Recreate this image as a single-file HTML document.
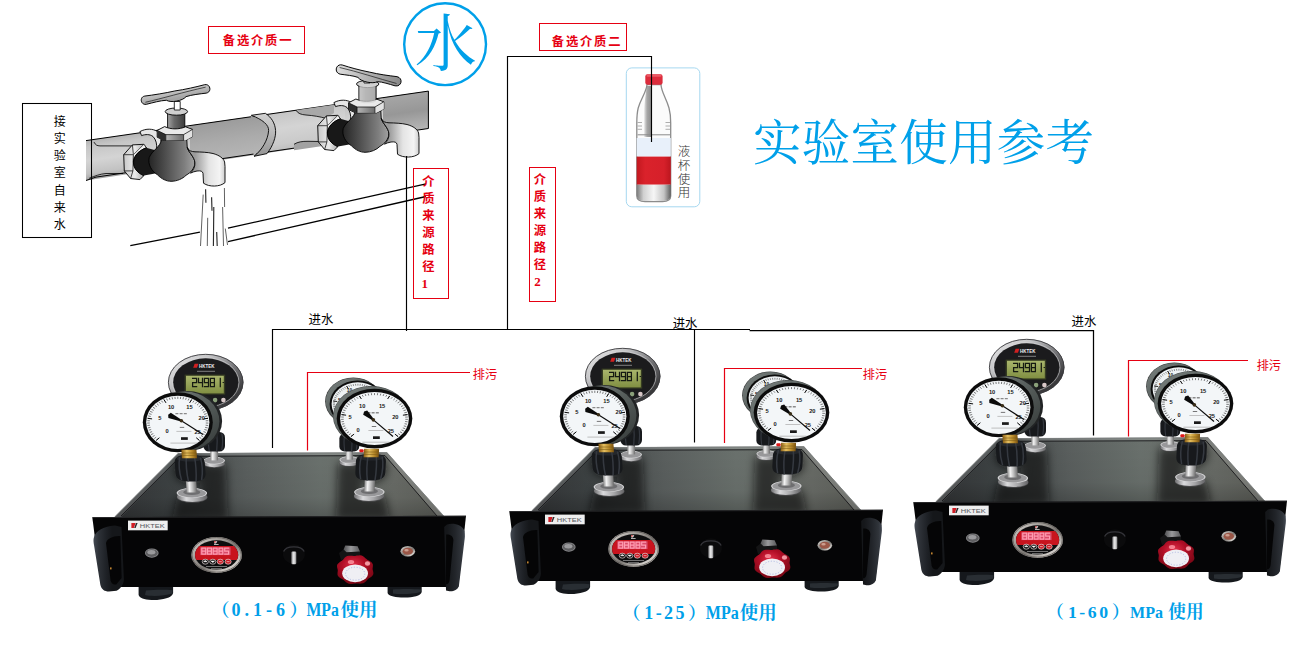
<!DOCTYPE html>
<html><head><meta charset="utf-8"><title>Lab usage reference</title>
<style>
html,body{margin:0;padding:0;background:#fff;}
body{width:1306px;height:648px;overflow:hidden;font-family:"Liberation Sans",sans-serif;}
svg{display:block;}
svg text{font-family:"Liberation Sans","Noto Sans CJK SC",sans-serif;}
</style></head><body>
<svg width="1306" height="648" viewBox="0 0 1306 648">
<defs>

<linearGradient id="pg" gradientUnits="userSpaceOnUse" x1="200" y1="124" x2="205.8" y2="164">
 <stop offset="0" stop-color="#b4b4b4"/><stop offset=".16" stop-color="#c6c6c6"/><stop offset=".5" stop-color="#d4d4d4"/><stop offset=".82" stop-color="#c2c2c2"/><stop offset="1" stop-color="#9e9e9e"/>
</linearGradient>
<linearGradient id="pg2" gradientUnits="userSpaceOnUse" x1="400" y1="95" x2="405.8" y2="135">
 <stop offset="0" stop-color="#a6a6a6"/><stop offset=".45" stop-color="#979797"/><stop offset="1" stop-color="#bcbcbc"/>
</linearGradient>
<linearGradient id="bodyg" gradientUnits="userSpaceOnUse" x1="146" y1="0" x2="197" y2="0">
 <stop offset="0" stop-color="#1e1e1e"/><stop offset=".35" stop-color="#4a4a4a"/><stop offset=".75" stop-color="#7e7e7e"/><stop offset="1" stop-color="#a8a8a8"/>
</linearGradient>
<linearGradient id="spg" gradientUnits="userSpaceOnUse" x1="195" y1="0" x2="226" y2="0">
 <stop offset="0" stop-color="#9a9a9a"/><stop offset=".45" stop-color="#e4e4e4"/><stop offset=".8" stop-color="#f4f4f4"/><stop offset="1" stop-color="#c6c6c6"/>
</linearGradient>
<linearGradient id="nutg" gradientUnits="userSpaceOnUse" x1="156" y1="0" x2="193" y2="0">
 <stop offset="0" stop-color="#e6e6e6"/><stop offset=".3" stop-color="#c2c2c2"/><stop offset=".7" stop-color="#8c8c8c"/><stop offset="1" stop-color="#dcdcdc"/>
</linearGradient>
<linearGradient id="stemg" gradientUnits="userSpaceOnUse" x1="167" y1="0" x2="185" y2="0">
 <stop offset="0" stop-color="#a8a8a8"/><stop offset=".4" stop-color="#6a6a6a"/><stop offset="1" stop-color="#3c3c3c"/>
</linearGradient>
<linearGradient id="lnutg" gradientUnits="userSpaceOnUse" x1="124" y1="0" x2="146" y2="0">
 <stop offset="0" stop-color="#c9c9c9"/><stop offset=".5" stop-color="#ececec"/><stop offset="1" stop-color="#9a9a9a"/>
</linearGradient>
<linearGradient id="hg" gradientUnits="userSpaceOnUse" x1="0" y1="-4" x2="0" y2="4">
 <stop offset="0" stop-color="#c6c6c6"/><stop offset="1" stop-color="#a4a4a4"/>
</linearGradient>
<linearGradient id="pgB" gradientUnits="userSpaceOnUse" x1="225" y1="121" x2="230.8" y2="159">
 <stop offset="0" stop-color="#9c9c9c"/><stop offset=".5" stop-color="#ababab"/><stop offset="1" stop-color="#b6b6b6"/>
</linearGradient>
<linearGradient id="pgC" gradientUnits="userSpaceOnUse" x1="305" y1="109" x2="310.8" y2="147">
 <stop offset="0" stop-color="#c6c6c6"/><stop offset=".4" stop-color="#d4d4d4"/><stop offset=".8" stop-color="#cacaca"/><stop offset="1" stop-color="#bcbcbc"/>
</linearGradient>
<linearGradient id="cpg" gradientUnits="userSpaceOnUse" x1="0" y1="113" x2="0" y2="156">
 <stop offset="0" stop-color="#d2d2d2"/><stop offset=".5" stop-color="#b6b6b6"/><stop offset="1" stop-color="#949494"/>
</linearGradient>
<linearGradient id="hg2" gradientUnits="userSpaceOnUse" x1="-30" y1="0" x2="32" y2="0">
 <stop offset="0" stop-color="#dadada"/><stop offset=".5" stop-color="#b0b0b0"/><stop offset="1" stop-color="#8a8a8a"/>
</linearGradient>
<linearGradient id="nutc" gradientUnits="userSpaceOnUse" x1="165.8" y1="0" x2="183.6" y2="0">
 <stop offset="0" stop-color="#b6b6b6"/><stop offset="1" stop-color="#6c6c6c"/>
</linearGradient>
<g id="fbody">
 <!-- collar on pipe -->
 <path d="M139.9 131.6C146 128.2 153 128.6 157.5 131.5C161 136 162 142 160.6 148.5L156.6 150C157.2 144 156 139.5 153 136.5C149.6 134 145.5 134.2 141.6 135.6Z" fill="#e6e6e6" stroke="#000" stroke-width=".9"/>
 <!-- left hex nut -->
 <path d="M123.7 154.7L132.4 144.9L143.9 144.3L146.3 147.8C139 150.5 133.8 155.5 133.4 162C133.3 168 137.5 173 143.9 175.6L139.9 179.6L130.6 178.5L124.3 170.9Z" fill="url(#lnutg)" stroke="#000" stroke-width=".9"/>
 <path d="M132.4 144.9L133.4 154.7L132.9 170.9L130.6 178.5M123.7 154.7L133.4 154.7M124.3 170.9L132.9 170.9" fill="none" stroke="#000" stroke-width=".7"/>
 <path d="M133.4 154.7L143.9 144.3L146.3 147.8C139 150.5 133.8 155.5 133.4 162Z" fill="#f2f2f2" stroke="#000" stroke-width=".6"/>
 <!-- dark connector -->
 <path d="M146.3 147.8C139 150.5 133.8 155.5 133.6 162C133.5 168 137.5 173 143.9 175.6L158 173V151Z" fill="#181818"/>
 <path d="M146.3 147.8C139 150.5 133.8 155.5 133.6 162C133.5 168 137.5 173 143.9 175.6" fill="none" stroke="#000" stroke-width=".8"/>
 <!-- body -->
 <path d="M161.3 139.8C161 146.5 152 150.5 149.2 157.5C147.6 164.5 151.5 171 157.5 174.8C161.5 179 166.5 181.3 171 181.3C177 181.3 182.5 178.8 186 175.3C191 172.5 194.6 168 194.9 163C195.2 157 188 152.5 187.2 147L186.8 139.8Z" fill="url(#bodyg)" stroke="#000" stroke-width=".9"/>
 <!-- spout -->
 <path d="M187.3 147.5C188.5 150.8 191.5 151.6 195 151.8C201 152 207.6 152.2 213 153.5C219.2 155.2 223.5 158.2 224.6 162C225.2 165 225 168 225 171V182.6C220 187 209 187.2 203.5 183.2L203 173.4C202.6 171 200.5 170.6 197 171C194.5 171.4 192.2 172.3 190.4 173.2C193.5 170 195.2 166.5 194.9 162.8C194.6 157 189 153 187.3 147.5Z" fill="url(#spg)" stroke="#000" stroke-width=".9"/>
</g>
<g id="ftop">
 <!-- stem cylinder -->
 <path d="M167.6 112.5V129.5C172 132 180 132 184.8 129.5V112.5Z" fill="url(#stemg)" stroke="#000" stroke-width=".9"/>
 <!-- top hex nut -->
 <path d="M157.2 130.4L164.6 126.6C171 129.6 179 129.6 185.6 126.8L192.5 129.4V136.6L185.4 140.4H164.2L157.2 137.2Z" fill="#e9e9e9" stroke="#000" stroke-width=".9"/>
 <path d="M157.2 130.4L165.8 134.6V140.4H164.2L157.2 137.2Z" fill="#2e2e2e"/>
 <path d="M165.8 134.6H183.6V140.4H165.8Z" fill="url(#nutc)"/>
 <path d="M183.6 134.6L192.5 129.4V136.6L185.4 140.4H183.6Z" fill="#e2e2e2"/>
 <path d="M157.2 130.4L165.8 134.6H183.6L192.5 129.4M165.8 134.6V140.4M183.6 134.6V140.4" fill="none" stroke="#000" stroke-width=".7"/>
 <!-- cap -->
 <ellipse cx="176.4" cy="111.6" rx="11.2" ry="3.6" fill="#cfcfcf" stroke="#000" stroke-width=".9"/>
</g>


<linearGradient id="btg" gradientUnits="userSpaceOnUse" x1="636" y1="0" x2="672" y2="0">
 <stop offset="0" stop-color="#a6a6a6"/><stop offset=".14" stop-color="#dedede"/><stop offset=".3" stop-color="#c6c6c6"/><stop offset=".5" stop-color="#fafafa"/><stop offset=".72" stop-color="#d0d0d0"/><stop offset=".86" stop-color="#ececec"/><stop offset="1" stop-color="#a4a4a4"/>
</linearGradient>
<linearGradient id="btband" gradientUnits="userSpaceOnUse" x1="644" y1="0" x2="651" y2="0">
 <stop offset="0" stop-color="#e8e8e8"/><stop offset=".45" stop-color="#a6a6a6"/><stop offset="1" stop-color="#8e8e8e"/>
</linearGradient>
<linearGradient id="btb" gradientUnits="userSpaceOnUse" x1="636.7" y1="0" x2="670.8" y2="0">
 <stop offset="0" stop-color="#7a7a7a"/><stop offset=".2" stop-color="#d0d0d0"/><stop offset=".5" stop-color="#f6f6f6"/><stop offset=".8" stop-color="#c4c4c4"/><stop offset="1" stop-color="#5e5e5e"/>
</linearGradient>
<linearGradient id="btr" gradientUnits="userSpaceOnUse" x1="636.7" y1="0" x2="670.8" y2="0">
 <stop offset="0" stop-color="#c2181f"/><stop offset=".25" stop-color="#da222b"/><stop offset=".8" stop-color="#d6202a"/><stop offset="1" stop-color="#bc161e"/>
</linearGradient>


<linearGradient id="topg" gradientUnits="userSpaceOnUse" x1="115" y1="0" x2="445" y2="0">
 <stop offset="0" stop-color="#343638"/><stop offset=".18" stop-color="#3e4344"/><stop offset=".4" stop-color="#5a5f5e"/><stop offset=".62" stop-color="#6a716d"/><stop offset=".85" stop-color="#686b66"/><stop offset="1" stop-color="#5e605a"/>
</linearGradient>
<linearGradient id="topv" gradientUnits="userSpaceOnUse" x1="0" y1="453" x2="0" y2="516">
 <stop offset="0" stop-color="#000" stop-opacity="0"/><stop offset=".7" stop-color="#000" stop-opacity=".05"/><stop offset="1" stop-color="#000" stop-opacity=".2"/>
</linearGradient>
<linearGradient id="silv" x1="0" y1="0" x2="1" y2="0">
 <stop offset="0" stop-color="#8a8a8a"/><stop offset=".3" stop-color="#f2f2f2"/><stop offset=".6" stop-color="#bdbdbd"/><stop offset="1" stop-color="#6a6a6a"/>
</linearGradient>
<linearGradient id="silv2" x1="0" y1="0" x2="1" y2="1">
 <stop offset="0" stop-color="#e8e8ea"/><stop offset=".5" stop-color="#9a9a9c"/><stop offset="1" stop-color="#d8d8da"/>
</linearGradient>
<linearGradient id="brass" x1="0" y1="0" x2="1" y2="0">
 <stop offset="0" stop-color="#8a5e14"/><stop offset=".35" stop-color="#e6c060"/><stop offset=".7" stop-color="#b88a2a"/><stop offset="1" stop-color="#7a5210"/>
</linearGradient>
<linearGradient id="knobg" x1="0" y1="0" x2="1" y2="0">
 <stop offset="0" stop-color="#0c0c0c"/><stop offset=".3" stop-color="#3a3a3a"/><stop offset=".55" stop-color="#151515"/><stop offset=".8" stop-color="#2c2c2c"/><stop offset="1" stop-color="#080808"/>
</linearGradient>
<linearGradient id="lcdg" x1="0" y1="0" x2="0" y2="1">
 <stop offset="0" stop-color="#a9b56c"/><stop offset="1" stop-color="#818f42"/>
</linearGradient>
<radialGradient id="redk" cx=".45" cy=".35" r=".7">
 <stop offset="0" stop-color="#e2304a"/><stop offset=".45" stop-color="#b00e26"/><stop offset="1" stop-color="#700612"/>
</radialGradient>
<linearGradient id="hexg" x1="0" y1="0" x2="1" y2="0">
 <stop offset="0" stop-color="#4e4e50"/><stop offset=".45" stop-color="#9a9a9c"/><stop offset="1" stop-color="#58585a"/>
</linearGradient>
<filter id="bl" x="-30%" y="-30%" width="160%" height="160%"><feGaussianBlur stdDeviation="4.5"/></filter>
<clipPath id="topclip"><path d="M178 453.2L387 452.3L444.5 517H114.5Z"/></clipPath>
<linearGradient id="hdl" gradientUnits="userSpaceOnUse" x1="93" y1="0" x2="112" y2="0">
 <stop offset="0" stop-color="#454b54"/><stop offset=".3" stop-color="#2e3238"/><stop offset=".7" stop-color="#1e2126"/><stop offset="1" stop-color="#15171a"/>
</linearGradient>
<linearGradient id="hdr" gradientUnits="userSpaceOnUse" x1="447" y1="0" x2="465" y2="0">
 <stop offset="0" stop-color="#15171a"/><stop offset=".45" stop-color="#22252a"/><stop offset=".8" stop-color="#30343a"/><stop offset="1" stop-color="#434952"/>
</linearGradient>
<linearGradient id="ring2" x1="0" y1="0" x2="1" y2="1">
 <stop offset="0" stop-color="#e2dfdb"/><stop offset=".3" stop-color="#a6a29d"/><stop offset=".55" stop-color="#7a7672"/><stop offset=".8" stop-color="#cfcbc6"/><stop offset="1" stop-color="#8e8a86"/>
</linearGradient>
<clipPath id="dispclip"><ellipse cx="216.6" cy="554.9" rx="21.6" ry="14.6"/></clipPath>
<linearGradient id="ptr" x1="0" y1="0" x2="1" y2="0">
 <stop offset="0" stop-color="#8e8e90"/><stop offset=".5" stop-color="#f0f0f0"/><stop offset="1" stop-color="#8a8a8c"/>
</linearGradient>
<linearGradient id="caseg" x1="0" y1="0" x2="1" y2="1">
 <stop offset="0" stop-color="#7c8482"/><stop offset=".5" stop-color="#565d5b"/><stop offset="1" stop-color="#343938"/>
</linearGradient>
<linearGradient id="chrome" x1="0" y1="0" x2="1" y2="1">
 <stop offset="0" stop-color="#f2f2f2"/><stop offset=".3" stop-color="#c4c4c6"/><stop offset=".55" stop-color="#77777a"/><stop offset=".8" stop-color="#3c3c3e"/><stop offset="1" stop-color="#2a2a2c"/>
</linearGradient>
<linearGradient id="flg" x1="0" y1="0" x2="1" y2="0">
 <stop offset="0" stop-color="#6e6e70"/><stop offset=".3" stop-color="#dadadc"/><stop offset=".65" stop-color="#a8a8aa"/><stop offset="1" stop-color="#626264"/>
</linearGradient>
<g id="postF">
 <!-- front post: local origin = flange top-face center -->
 <ellipse cx="0" cy="3.9" rx="15.2" ry="5.2" fill="#4c4c4e"/>
 <ellipse cx="0" cy="3.2" rx="15.2" ry="5.1" fill="url(#flg)"/>
 <ellipse cx="0" cy="-.6" rx="15.2" ry="5.1" fill="#d6d6d8"/>
 <ellipse cx="0" cy="-.6" rx="14" ry="4.4" fill="#98989a"/>
 <ellipse cx="0" cy="-1.4" rx="8.6" ry="2.8" fill="#6e6e70"/>
 <rect x="-5.2" y="-12.6" width="10.4" height="11.6" fill="url(#silv)"/>
 <path d="M-15 -31C-15 -36.8 -10.5 -38.6 0 -38.6C10.5 -38.6 15 -36.8 15 -31V-20C15 -14 10 -12 0 -12C-10 -12 -15 -14 -15 -20Z" fill="#17191c"/>
 <ellipse cx="0" cy="-35.2" rx="12.6" ry="3.2" fill="#24272b"/>
 <path d="M-9.8 -36.5C-11.2 -30 -11.2 -21 -9.4 -13.4M-3 -37.6C-4 -30 -4 -21 -2.6 -12.3M5 -37.6C6 -30 6 -21 5 -12.3M11 -36C12.4 -30 12.4 -21 10.6 -13.6" stroke="#353940" stroke-width="1.5" fill="none"/>
 <rect x="-7.5" y="-43.8" width="15" height="8.4" fill="url(#brass)"/>
 <path d="M-7.5 -40.6H7.5M-7.5 -38.2H7.5" stroke="#7a5a14" stroke-width=".6"/>
</g>
<g id="postB">
 <ellipse cx="0" cy="3" rx="10.8" ry="3.9" fill="#4c4c4e"/>
 <ellipse cx="0" cy="2.4" rx="10.8" ry="3.8" fill="url(#flg)"/>
 <ellipse cx="0" cy="-.4" rx="10.8" ry="3.8" fill="#d6d6d8"/>
 <ellipse cx="0" cy="-.4" rx="9.8" ry="3.2" fill="#98989a"/>
 <rect x="-3.9" y="-10" width="7.8" height="9.4" fill="url(#silv)"/>
 <rect x="-10.8" y="-29" width="21.6" height="19.6" rx="5.5" fill="#17191c"/>
 <path d="M-5 -28.4C-6 -23 -6 -17 -5 -10M2.5 -28.8C3.2 -23 3.2 -17 2.5 -9.8M7.6 -27.6C8.6 -23 8.6 -17 7.6 -11" stroke="#353940" stroke-width="1.2" fill="none"/>
</g>

<g id="machine">
<path d="M138.6 586H173.1V593C172 598.5 160 600.4 151.3 599.9C144 599.5 139.5 598 138.6 595Z" fill="#15181c"/>
<path d="M146 590.5C154 589.6 165 589.4 172.6 590.2L172.4 593.5C164 596 152 596.6 145 595Z" fill="#2e343a" opacity=".8"/>
<path d="M387.6 586H421.7V592C421 596.5 410 598 401 597.4C393 597 388.4 595.5 387.6 593Z" fill="#15181c"/>
<path d="M393 589.6C401 588.8 413 588.8 421 589.6L420.6 592C412 594.4 400 594.6 393 593.4Z" fill="#2e343a" opacity=".8"/>
<path d="M178 453.2L387 452.3L444.5 517H114.5Z" fill="url(#topg)"/>
<path d="M178 453.2L387 452.3L444.5 517H114.5Z" fill="url(#topv)"/>
<path fill-rule="evenodd" d="M114.5 517L178 453.2L387 452.3L444.5 517ZM121 517L180.5 456.3L385 455.6L438 517Z" fill="#fff" opacity=".17"/>
<path d="M115.2 516.5L178.2 453.6L386.8 452.8L443.8 516" fill="none" stroke="#7a7e7e" stroke-width=".8"/>
<path d="M121 516L180.5 456.3L385 455.6L437 516" fill="none" stroke="#161618" stroke-width=".9"/>
<g clip-path="url(#topclip)"><g filter="url(#bl)" fill="#0c0c0c" opacity=".62"><path d="M203 464H226L228 520H196Z"/><path d="M338 463H360L366 520H336Z"/><path d="M177 497H207L209 520H172Z"/><path d="M354 496H385L390 520H352Z"/><ellipse cx="190" cy="470" rx="16" ry="14"/><ellipse cx="371" cy="469" rx="16" ry="14"/></g></g>
<use href="#postB" transform="translate(214.2 461)"/>
<use href="#postB" transform="translate(349.3 460.2) scale(.92)"/>
<ellipse cx="205.7" cy="382.3" rx="37.7" ry="28.4" fill="url(#chrome)"/>
<ellipse cx="205.7" cy="382.3" rx="37.300000000000004" ry="28.0" fill="none" stroke="#3a3a3d" stroke-width=".9"/>
<ellipse cx="205.7" cy="382.3" rx="33.300000000000004" ry="24.7" fill="none" stroke="#d8d8da" stroke-width=".8" opacity=".7"/>
<ellipse cx="205.7" cy="382.3" rx="32.5" ry="24.0" fill="#1b1b1d"/>
<rect x="184.6" y="374.6" width="40.6" height="20" fill="#363c22"/>
<rect x="186" y="375.8" width="37.8" height="17.6" fill="url(#lcdg)"/>
<path d="M192.6 378.4L196.6 378.4M196.6 378.4L196.6 382.5M192.6 382.5L196.6 382.5M192.6 382.5L192.6 386.6M192.6 386.6L196.6 386.6M198.5 378.4L198.5 382.5M198.5 382.5L202.5 382.5M202.5 378.4L202.5 382.5M202.5 382.5L202.5 386.6M204.4 378.4L208.5 378.4M208.5 378.4L208.5 382.5M204.4 378.4L204.4 382.5M204.4 382.5L208.5 382.5M208.5 382.5L208.5 386.6M204.4 386.6L208.5 386.6M210.4 378.4L214.4 378.4M214.4 378.4L214.4 382.5M214.4 382.5L214.4 386.6M210.4 386.6L214.4 386.6M210.4 382.5L210.4 386.6M210.4 378.4L210.4 382.5M210.4 382.5L214.4 382.5M220.3 378.4L220.3 382.5M220.3 382.5L220.3 386.6" stroke="#161a12" stroke-width="1.25" fill="none" stroke-linecap="square"/>
<path d="M222.6 382.5H224" stroke="#1d2118" stroke-width="1"/>
<path d="M194.6 363.8H198.4L197 367.7H193.2Z" fill="#d02020"/>
<text x="199.1" y="367.7" font-family="'Liberation Sans',sans-serif" font-size="4.7" font-weight="bold" fill="#f0f0f0" textLength="15.3" lengthAdjust="spacingAndGlyphs">HKTEK</text>
<path d="M197 371.3H215" stroke="#8a8a8a" stroke-width=".9"/>
<circle cx="215.1" cy="400.1" r="2.3" fill="#8aa07a"/><circle cx="223.4" cy="400.1" r="2.3" fill="#d8c8c8"/>
<ellipse cx="187.1" cy="421.0" rx="35" ry="30" fill="#222425"/>
<ellipse cx="184.7" cy="421.3" rx="34.7" ry="29.7" fill="url(#caseg)"/>
<ellipse cx="177.8" cy="422.3" rx="35" ry="30" fill="#0c0c0c"/>
<ellipse cx="177.8" cy="422.3" rx="31.6" ry="26.6" fill="#f3f6f8"/>
<path d="M156.2 440.4L158.0 438.9M154.2 438.6L156.2 437.2M152.5 436.7L154.6 435.5M151.0 434.6L153.3 433.6M149.7 432.5L152.1 431.6M148.7 430.2L151.2 429.5M147.9 427.9L150.5 427.4M147.4 425.5L150.0 425.2M147.2 423.1L149.8 423.0M147.3 420.7L149.9 420.8M147.6 418.3L150.1 418.6M148.2 415.9L150.7 416.5M149.0 413.6L151.5 414.4M150.1 411.4L152.5 412.3M151.5 409.3L153.7 410.4M153.0 407.3L155.1 408.5M154.8 405.4L156.8 406.8M156.9 403.6L158.6 405.2M159.0 402.1L160.6 403.8M161.4 400.7L162.8 402.5M163.9 399.5L165.1 401.4M166.5 398.5L167.5 400.5M169.3 397.7L170.0 399.8M172.1 397.2L172.6 399.3M174.9 396.8L175.2 399.0M177.8 396.7L177.8 398.9M180.7 396.8L180.4 399.0M183.5 397.2L183.0 399.3M186.3 397.7L185.6 399.8M189.1 398.5L188.1 400.5M191.7 399.5L190.5 401.4M194.2 400.7L192.8 402.5M196.6 402.1L195.0 403.8M198.7 403.6L197.0 405.2M200.8 405.4L198.8 406.8M202.6 407.3L200.5 408.5M204.1 409.3L201.9 410.4M205.5 411.4L203.1 412.3M206.6 413.6L204.1 414.4M207.4 415.9L204.9 416.5M208.0 418.3L205.5 418.6M208.3 420.7L205.7 420.8M208.4 423.1L205.8 423.0M208.2 425.5L205.6 425.2M207.7 427.9L205.1 427.4M206.9 430.2L204.4 429.5M205.9 432.5L203.5 431.6M204.6 434.6L202.3 433.6M203.1 436.7L201.0 435.5M201.4 438.6L199.4 437.2M199.4 440.4L197.6 438.9" stroke="#161616" stroke-width=".55" fill="none"/>
<path d="M156.2 440.4L159.4 437.7M147.6 418.3L152.1 418.9M163.9 399.5L166.0 402.9M191.7 399.5L189.6 402.9M208.0 418.3L203.5 418.9M199.4 440.4L196.2 437.7" stroke="#0c0c0c" stroke-width="1" fill="none"/>
<g font-family="'Liberation Sans',sans-serif" font-size="5.7" font-weight="bold" fill="#1a1a1a">
<text x="167.9" y="408.6">10</text>
<text x="186.3" y="408.6">15</text>
<text x="158.2" y="420.3">5</text>
<text x="198.6" y="419.7">20</text>
<text x="165.6" y="432.8">0</text>
<text x="194.4" y="433.7">25</text>
</g>
<path d="M175.4 413.6h12" stroke="#8a8a8a" stroke-width="1.4" stroke-dasharray="3 1.2"/>
<path d="M179.8 427.4h4.4" stroke="#666" stroke-width=".9"/>
<path d="M176.4 431.4h15" stroke="#aaa" stroke-width=".7"/>
<rect x="181.0" y="437.2" width="6.8" height="2.7" fill="#1a1a1a"/>
<path d="M170.4 443.1h27" stroke="#999" stroke-width=".6"/>
<path d="M181.8 420.0L170.8 412.7L168.2 414.8L168.4 418.1L181.0 421.6Z" fill="#0a0a0a"/>
<path d="M181.4 420.8L203.0 434.6" stroke="#0a0a0a" stroke-width="1.15"/>
<circle cx="181.4" cy="420.8" r="1.8" fill="#3a2e18"/>
<ellipse cx="353.4" cy="401.3" rx="28.3" ry="23.9" fill="#3a3c3c"/>
<ellipse cx="353.4" cy="401.3" rx="27.7" ry="23.3" fill="url(#caseg)"/>
<ellipse cx="357.6" cy="404" rx="28" ry="23.6" fill="#0c0c0c"/>
<ellipse cx="357.8" cy="404.1" rx="26.2" ry="21.8" fill="#eef2f4"/>
<path d="M340.2 418.6L341.8 417.4M338.6 417.2L340.3 416.1M337.2 415.7L339.0 414.7M336.0 414.0L337.9 413.2M335.0 412.3L337.0 411.6M334.1 410.5L336.2 409.9M333.5 408.7L335.6 408.3M333.1 406.8L335.3 406.5M332.9 404.8L335.1 404.8M332.9 402.9L335.1 403.0M333.2 401.0L335.4 401.3M333.7 399.1L335.8 399.6M334.4 397.3L336.4 397.9M335.3 395.5L337.3 396.3M336.4 393.8L338.3 394.7M337.7 392.2L339.5 393.3M339.1 390.7L340.8 391.9M340.8 389.3L342.3 390.6M342.6 388.1L343.9 389.5M344.5 387.0L345.7 388.5M346.6 386.0L347.5 387.6M348.7 385.2L349.5 386.9M350.9 384.6L351.5 386.3M353.2 384.2L353.6 385.9M355.5 383.9L355.8 385.7M357.9 383.8L357.9 385.6M360.3 383.9L360.0 385.7M362.6 384.2L362.2 385.9M364.9 384.6L364.3 386.3M367.1 385.2L366.3 386.9M369.2 386.0L368.3 387.6M371.3 387.0L370.1 388.5M373.2 388.1L371.9 389.5M375.0 389.3L373.5 390.6M376.7 390.7L375.0 391.9M378.1 392.2L376.3 393.3M379.4 393.8L377.5 394.7M380.5 395.5L378.5 396.3M381.4 397.3L379.4 397.9M382.1 399.1L380.0 399.6M382.6 401.0L380.4 401.3M382.9 402.9L380.7 403.0M382.9 404.8L380.7 404.8M382.7 406.8L380.5 406.5M382.3 408.7L380.2 408.3M381.7 410.5L379.6 409.9M380.8 412.3L378.8 411.6M379.8 414.0L377.9 413.2M378.6 415.7L376.8 414.7M377.2 417.2L375.5 416.1M375.6 418.6L374.0 417.4" stroke="#222" stroke-width=".5" fill="none"/>
<path d="M340.2 418.6L343.1 416.3M333.2 401.0L337.2 401.5M346.6 386.0L348.4 388.9M369.2 386.0L367.4 388.9M382.6 401.0L378.6 401.5M375.6 418.6L372.7 416.3" stroke="#111" stroke-width=".9" fill="none"/>
<g font-family="'Liberation Sans',sans-serif" font-size="4.8" font-weight="bold" fill="#222">
<text x="338.1" y="402.3">5</text>
<text x="346.8" y="392.3">10</text>
</g>
<ellipse cx="371.1" cy="416.2" rx="38.099999999999994" ry="30.2" fill="#4a4e4e"/>
<ellipse cx="371.1" cy="416.2" rx="37.599999999999994" ry="29.7" fill="url(#caseg)"/>
<ellipse cx="374.5" cy="418.6" rx="37.8" ry="29.9" fill="#0c0c0c"/>
<ellipse cx="374.5" cy="418.6" rx="34.4" ry="26.5" fill="#f3f6f8"/>
<path d="M350.9 436.6L352.7 435.2M348.8 434.9L350.8 433.6M346.9 432.9L349.0 431.8M345.2 430.9L347.5 429.9M343.8 428.7L346.2 427.9M342.7 426.5L345.2 425.9M341.9 424.2L344.4 423.7M341.4 421.8L343.9 421.5M341.1 419.4L343.7 419.3M341.2 417.0L343.8 417.1M341.5 414.6L344.1 414.9M342.1 412.3L344.7 412.8M343.1 410.0L345.5 410.6M344.3 407.7L346.6 408.6M345.8 405.6L348.0 406.6M347.5 403.6L349.6 404.8M349.4 401.7L351.4 403.0M351.6 400.0L353.4 401.5M354.0 398.5L355.6 400.0M356.6 397.1L358.0 398.7M359.3 395.9L360.5 397.6M362.2 394.9L363.2 396.7M365.2 394.1L365.9 396.0M368.2 393.6L368.7 395.5M371.4 393.2L371.6 395.2M374.5 393.1L374.5 395.1M377.6 393.2L377.4 395.2M380.8 393.6L380.3 395.5M383.8 394.1L383.1 396.0M386.8 394.9L385.8 396.7M389.7 395.9L388.5 397.6M392.4 397.1L391.0 398.7M395.0 398.5L393.4 400.0M397.4 400.0L395.6 401.5M399.6 401.7L397.6 403.0M401.5 403.6L399.4 404.8M403.2 405.6L401.0 406.6M404.7 407.7L402.4 408.6M405.9 410.0L403.5 410.6M406.9 412.3L404.3 412.8M407.5 414.6L404.9 414.9M407.8 417.0L405.2 417.1M407.9 419.4L405.3 419.3M407.6 421.8L405.1 421.5M407.1 424.2L404.6 423.7M406.3 426.5L403.8 425.9M405.2 428.7L402.8 427.9M403.8 430.9L401.5 429.9M402.1 432.9L400.0 431.8M400.2 434.9L398.2 433.6M398.1 436.6L396.3 435.2" stroke="#161616" stroke-width=".55" fill="none"/>
<path d="M350.9 436.6L354.1 434.1M341.5 414.6L346.1 415.2M359.3 395.9L361.4 399.0M389.7 395.9L387.6 399.0M407.5 414.6L402.9 415.2M398.1 436.6L394.9 434.1" stroke="#0c0c0c" stroke-width="1" fill="none"/>
<g font-family="'Liberation Sans',sans-serif" font-size="5.7" font-weight="bold" fill="#1a1a1a">
<text x="359.1" y="407.7">10</text>
<text x="378.9" y="407.7">15</text>
<text x="348.5" y="419.4">5</text>
<text x="392.2" y="418.8">20</text>
<text x="356.5" y="431.9">0</text>
<text x="387.7" y="432.8">25</text>
</g>
<path d="M367.4 412.7h12" stroke="#8a8a8a" stroke-width="1.4" stroke-dasharray="3 1.2"/>
<path d="M371.8 426.5h4.4" stroke="#666" stroke-width=".9"/>
<path d="M368.4 430.5h15" stroke="#aaa" stroke-width=".7"/>
<rect x="373.0" y="436.3" width="6.8" height="2.7" fill="#1a1a1a"/>
<path d="M362.4 442.2h27" stroke="#999" stroke-width=".6"/>
<path d="M374.0 419.2L367.2 410.4L364.1 411.6L363.2 414.8L372.8 420.6Z" fill="#0a0a0a"/>
<path d="M373.4 419.9L393.0 436.5" stroke="#0a0a0a" stroke-width="1.15"/>
<circle cx="373.4" cy="419.9" r="1.8" fill="#3a2e18"/>
<rect x="359.4" y="449.3" width="4.2" height="2.9" rx="1" fill="#e01818"/>
<use href="#postF" transform="translate(191.9 493.6) skewX(3.9)"/>
<use href="#postF" transform="translate(369.3 492.6) skewX(-3)"/>
<path d="M92.3 517.2L466 515.8L458.3 587H101.3Z" fill="#050506"/>
<path d="M92.6 517.6L466 516.2" stroke="#262628" stroke-width=".9"/>
<path d="M115 525.5C108 526 98 529 95.3 534.3C93 538 93.4 541 94 545L100.4 585C101.5 589.6 105 591.6 109 591.5L116.5 590.8C120.5 589 123.3 585 123.9 579.8L121.5 527Z" fill="url(#hdl)"/>
<path d="M119 536C112.5 536.3 107 538.5 106 543L110.6 580.5C111.5 584 113.5 585 116.2 584.4L121.6 578L120.3 536Z" fill="#050506"/>
<rect x="110" y="567.4" width="1.6" height="2" fill="#c08430"/>
<path d="M447 524.4C453.5 522.4 462 524.6 464.5 531C465.2 535 464.9 538 464.4 541L458.9 586C457.5 590.4 453 591.6 449.5 591.2L446 590.4L444.2 527Z" fill="url(#hdr)"/>
<path d="M446.2 534.5C450 534.3 453 536 453.4 540L449.6 580C449 583.4 447.4 584.6 446 584.2Z" fill="#050506"/>
<rect x="128" y="520.6" width="39.7" height="9.7" fill="#eeeeee"/>
<path d="M131.4 523H135.6L133.9 527.9H131.4Z" fill="#d01c24"/><path d="M136 523H137.6L135.6 527.9H134.2Z" fill="#2a2a2c"/>
<text x="139.8" y="528.2" font-family="'Liberation Sans',sans-serif" font-size="6.15" fill="#55565a" textLength="24.9" lengthAdjust="spacingAndGlyphs">HKTEK</text>
<ellipse cx="151.8" cy="553.1" rx="6.8" ry="4.6" fill="#8c8c8e"/><ellipse cx="151.8" cy="553.1" rx="6" ry="3.9" fill="#5e5e60"/><ellipse cx="151.4" cy="552.3" rx="4" ry="2.2" fill="#9a9a9c"/>
<ellipse cx="216.6" cy="554.9" rx="25.3" ry="18" fill="url(#ring2)"/>
<ellipse cx="216.6" cy="554.9" rx="24.6" ry="17.3" fill="none" stroke="#5c5854" stroke-width=".8"/>
<ellipse cx="216.6" cy="554.9" rx="21.6" ry="14.6" fill="#0d0d0e"/>
<g clip-path="url(#dispclip)"><rect x="193" y="545.9" width="48" height="14" rx="3.5" fill="#c8141e"/></g>
<rect x="200.2" y="547.3" width="30.4" height="7.8" fill="#d84a68"/>
<path d="M201.8 548.2L205.7 548.2M205.7 548.2L205.7 551.2M205.7 551.2L205.7 554.2M201.8 554.2L205.7 554.2M201.8 551.2L201.8 554.2M201.8 548.2L201.8 551.2M201.8 551.2L205.7 551.2M207.5 548.2L211.4 548.2M211.4 548.2L211.4 551.2M211.4 551.2L211.4 554.2M207.5 554.2L211.4 554.2M207.5 551.2L207.5 554.2M207.5 548.2L207.5 551.2M207.5 551.2L211.4 551.2M213.2 548.2L217.1 548.2M217.1 548.2L217.1 551.2M217.1 551.2L217.1 554.2M213.2 554.2L217.1 554.2M213.2 551.2L213.2 554.2M213.2 548.2L213.2 551.2M213.2 551.2L217.1 551.2M219.0 548.2L222.8 548.2M222.8 548.2L222.8 551.2M222.8 551.2L222.8 554.2M219.0 554.2L222.8 554.2M219.0 551.2L219.0 554.2M219.0 548.2L219.0 551.2M219.0 551.2L222.8 551.2M224.7 548.2L228.6 548.2M224.7 548.2L224.7 551.2M224.7 551.2L228.6 551.2M228.6 551.2L228.6 554.2M224.7 554.2L228.6 554.2" stroke="#ff9cb0" stroke-width="1.2" fill="none" stroke-linecap="square"/>
<path d="M214.2 541.2H217.4L216 543.4H214.2ZM214 544H218.6V544.8H214Z" fill="#e8e8e8"/><path d="M214.2 541.2H215.6V542.6H214.2Z" fill="#e02020"/>
<ellipse cx="205.3" cy="561.7" rx="3.1" ry="2.5" fill="#0c0c0c" stroke="#e6dada" stroke-width=".7"/>
<ellipse cx="212.8" cy="561.7" rx="3.1" ry="2.5" fill="#0c0c0c" stroke="#e6dada" stroke-width=".7"/>
<ellipse cx="220.3" cy="561.7" rx="3.1" ry="2.5" fill="#c8141e" stroke="#e6dada" stroke-width=".7"/>
<ellipse cx="228.1" cy="561.7" rx="3.1" ry="2.5" fill="#c8141e" stroke="#e6dada" stroke-width=".7"/>
<path d="M203.6 561.7l1.7-1.3 1.7 1.3zM211.1 561.1l1.7 1.4 1.7-1.4zM218.8 561.7h3M226.6 561.7h3" stroke="#fff" stroke-width=".6" fill="#fff"/>
<path d="M206 566.5H227M211 568.6H222" stroke="#cfcfcf" stroke-width=".7" opacity=".75"/>
<ellipse cx="293.9" cy="554" rx="11" ry="9.8" fill="#0b0b0c"/>
<path d="M283.6 551.5C286 545.5 301 545 304.2 551.5" stroke="#35353a" stroke-width="1.3" fill="none"/>
<rect x="291.4" y="551.5" width="4.9" height="12.7" rx="1.2" fill="url(#ptr)"/>
<path d="M339 553L343.5 549.5L346.5 552.3L360 551.5L360.4 558L341 560Z" fill="#141415"/>
<path d="M345.3 545.4L357.6 546.2L360 551.5L346.5 552.3L343.5 549.5Z" fill="url(#hexg)"/>
<path d="M372.7 569.7L373.0 570.9L373.3 572.2L373.4 573.6L373.1 574.8L372.2 576.0L371.1 576.9L369.8 577.8L368.6 578.6L367.6 579.5L366.7 580.5L365.8 581.6L364.6 582.6L363.2 583.3L361.6 583.6L359.9 583.7L358.3 583.6L356.7 583.5L355.2 583.5L353.6 583.8L352.0 584.0L350.3 584.1L348.7 583.8L347.3 583.1L346.0 582.2L345.0 581.2L343.9 580.3L342.8 579.5L341.5 578.8L340.1 578.0L338.9 577.1L338.0 576.0L337.5 574.8L337.5 573.4L337.6 572.1L337.8 570.9L337.7 569.7L337.4 568.5L337.1 567.2L337.0 565.8L337.3 564.6L338.2 563.4L339.3 562.5L340.6 561.6L341.8 560.8L342.8 559.9L343.7 558.9L344.6 557.8L345.8 556.8L347.2 556.1L348.8 555.8L350.5 555.7L352.1 555.8L353.7 555.9L355.2 555.9L356.8 555.6L358.4 555.4L360.1 555.3L361.7 555.6L363.1 556.3L364.4 557.2L365.4 558.2L366.5 559.1L367.6 559.9L368.9 560.6L370.3 561.4L371.5 562.3L372.4 563.4L372.9 564.6L372.9 566.0L372.8 567.3L372.6 568.5Z" fill="url(#redk)"/>
<ellipse cx="351" cy="562" rx="3.2" ry="2" fill="#ff9aa6" opacity=".8"/><ellipse cx="367.5" cy="563.5" rx="2.6" ry="2.2" fill="#ffb0b8" opacity=".85"/><ellipse cx="355.1" cy="573.3" rx="12.9" ry="8.9" fill="#efeff4"/>
<ellipse cx="355.2" cy="573.7" rx="9.6" ry="6.5" fill="none" stroke="#a8b4e0" stroke-width=".8" stroke-dasharray="1.2 1.6"/>
<ellipse cx="407.8" cy="551.2" rx="7.3" ry="5.2" fill="url(#ring2)"/><ellipse cx="407.8" cy="551.3" rx="5.2" ry="3.5" fill="#9a5646"/><ellipse cx="406.5" cy="550.2" rx="2.2" ry="1.2" fill="#d8b0a0" opacity=".8"/>
</g>
</defs>
<rect width="1306" height="648" fill="#fff"/>
<!-- faucet illustration -->
<path d="M86 140.6L428.4 91.1L428.4 128.5L86 180.5Z" fill="url(#pg)"/>
<path d="M190 125.6L254 116.3L254 154.0L190 163.3Z" fill="url(#pgB)"/>
<path d="M254 116.3L345 103.1L345 140.7L254 154.0Z" fill="url(#pgC)"/>
<path d="M383 97.6L428.4 91.1L428.4 128.5L383 135.2Z" fill="url(#pg2)"/>
<path d="M86 140.6L428.4 91.1V128.5M86 180.5L96 177.1L428.4 128.5" fill="none" stroke="#000" stroke-width="1"/>
<path d="M94 142.1C95.5 145 97 145.8 100 145.9L131.5 145.9M89.2 178.3C95 176 100 174 106 173.5L123 173.5" fill="none" stroke="#000" stroke-width=".8"/>
<path d="M296 110.2C298 113.6 301 114.6 306 115C314 115.6 320 116.8 325.5 118.2L334 113L334 104.8Z" fill="#a8a8a8"/>
<path d="M296 110.2C298 113.6 301 114.6 306 115C314 115.6 320 116.8 325.5 118.2" fill="none" stroke="#000" stroke-width=".8"/>
<path d="M294 144.3C298 141.8 302 141.3 308 141.3L321 141.5L321 146.3L294 150.3Z" fill="#a2a2a2"/>
<path d="M294 144.3C298 141.8 302 141.3 308 141.3L320 141.5" fill="none" stroke="#000" stroke-width=".8"/>
<path d="M250.8 115.6C262 119.5 269 125 268.6 130.6C268 140 262 150 253.6 156.2Z" fill="url(#pgB)"/>
<path d="M251.3 115.3C262.5 119.5 269 125 268.6 130.6C268 140 262 150 254 156.3L267 153.6C273 146 276 137 275.6 130.6C275 123 271.5 117.5 265.4 113.3Z" fill="url(#cpg)" stroke="#000" stroke-width=".9"/>
<path d="M203 187L200.4 246H227.6L224.6 187Z" fill="#fff"/>
<path d="M203.2 194.6L200.5 246M224.4 188L224.6 207M222.6 207L223.5 246M207.7 217.8L207.3 246M225.3 228.6L227.5 245" fill="none" stroke="#3a3a3a" stroke-width=".8"/>
<path d="M205.6 189.2L205.9 202.7M211.6 197.3L212 210.8M213.8 207L213.4 246M216.7 231.9L217.2 246" fill="none" stroke="#2a2a2a" stroke-width="1.15"/>
<path d="M228 228.1L426 183.9M228 241.6L426 196.5M130.3 245.7L199.9 232.1" fill="none" stroke="#000" stroke-width="1.3"/>
<use href="#fbody"/><use href="#ftop"/>
<use href="#fbody" transform="translate(194 -29)"/><use href="#ftop" transform="translate(191.3 -27.6)"/>
<path d="M359.5 85.4V101.7C363.3 103.7 370.3 103.7 375.5 101.7V85.4Z" fill="#d6d6d6" opacity=".72"/>
<path d="M174.3 101.5H180.2V110H174.3Z" fill="#fff" stroke="#000" stroke-width=".8"/>
<g transform="translate(175.5 94.5) rotate(-10.4)"><path d="M-30.5 -4C-36 -4.2 -36.4 4.2 -30.5 4.4C-24 4 -16 3.2 -10 4C-6 7.6 6 7.6 10 4C16 3.2 24 3.8 30.5 4.2C36.4 4.2 36.4 -4.4 30.5 -4.4C22 -3.7 10 -3.2 0 -3.6C-10 -3.2 -22 -3.5 -30.5 -4Z" fill="url(#hg)" stroke="#000" stroke-width=".9"/><path d="M-31 2.2C-15 1.6 10 -1 31 -1.8" fill="none" stroke="#222" stroke-width=".7"/></g>
<path d="M364 78.5H370V83H364Z" fill="#fff" stroke="#000" stroke-width=".8"/>
<g transform="translate(368.6 75.4) rotate(12.2)"><path d="M-28 -4.6C-34.5 -4.8 -34.8 4.6 -28 4.8C-22 4.4 -15 3.4 -10 4.2C-6 7.8 6 7.8 10 4.2C15 3.4 22 4.2 28 4.6C34.8 4.6 34.8 -4.8 28 -4.8C20 -4 10 -3.2 0 -3.4C-10 -3.2 -20 -3.8 -28 -4.6Z" fill="url(#hg2)" stroke="#000" stroke-width=".9"/><path d="M-30 -1.6C-12 -1.4 10 1 29 2" fill="none" stroke="#222" stroke-width=".7"/></g>
<!-- bottle -->
<rect x="626.3" y="67.9" width="73.5" height="138.9" rx="5.5" fill="#fff" stroke="#a6d8f0" stroke-width="1"/>
<path d="M647 84.5C646.5 92 641 98 638.2 108C637 113 636.8 118 636.8 123V196C636.8 200 640 201.5 645 201.5H662.5C667.5 201.5 670.7 200 670.7 196V123C670.7 118 670.4 113 669 108C666.2 98 661.3 92 661 84.5Z" fill="#fbfbfb"/>
<path d="M646.6 86C646.2 93 644.5 100 644.2 110V137H651V86Z" fill="url(#btband)"/>
<path d="M647 84.5C646.5 92 641 98 638.2 108C637 113 636.8 118 636.8 123V196C636.8 200 640 201.5 645 201.5H662.5C667.5 201.5 670.7 200 670.7 196V123C670.7 118 670.4 113 669 108C666.2 98 661.3 92 661 84.5Z" fill="none" stroke="#8c8c8c" stroke-width="1.3"/>
<path d="M637.5 122.5H642M637.5 126H642M637.5 129.3H642M665.5 122.5H670M665.5 126H670M665.5 129.3H670" stroke="#9a9a9a" stroke-width=".8" fill="none"/>
<path d="M637.6 134.8H670" stroke="#8a8a8a" stroke-width="1"/>
<rect x="636.7" y="138" width="34.1" height="18.6" fill="#e8f0fa"/>
<rect x="636.7" y="156.6" width="34.1" height="28.1" fill="url(#btr)"/>
<path d="M636.7 184.7H670.8V194.5C670.8 199 668 201 662 201H645.5C639.5 201 636.7 199 636.7 194.5Z" fill="url(#btb)"/>
<rect x="645.3" y="74.3" width="17.3" height="10.5" rx="2.2" fill="#dc2c3c"/><rect x="646.5" y="74.6" width="15" height="2.2" rx="1" fill="#ec5a66"/>
<!-- machines -->
<use href="#machine"/>
<use href="#machine" transform="translate(417 -6)"/>
<use href="#machine" transform="translate(821 -15)"/>
<!-- lines -->
<g fill="none" stroke="#000" stroke-width="1.15">
<rect x="22.5" y="103.5" width="69" height="134" stroke-width="1.05"/>
<path d="M406.5 156V331M750 329.5H272.5V448"/>
<path d="M651.5 142V56.5H507.5V330"/>
<path d="M694.5 329.5V442.5"/>
<path d="M749.6 330.5H1093.5V435.5" stroke-width="1.25"/>
</g>
<g fill="none" stroke="#e60012" stroke-width="1.2">
<g stroke-width="1"><rect x="208.5" y="26.5" width="96" height="27"/>
<rect x="539.5" y="23.5" width="87" height="27"/>
<rect x="413.5" y="168.5" width="35" height="130"/>
<rect x="529.5" y="167.5" width="26" height="134"/></g>
<path d="M470 372.5H307.5V450.5"/>
<path d="M862 368.5H724.5V443"/>
<path d="M1248 360.5H1128.5V436.5"/>
</g>
<!-- text -->
<text x="753" y="160" font-size="48.5" fill="#00a0e9" textLength="341" lengthAdjust="spacing" style="font-family:'Liberation Serif','Noto Serif CJK SC',serif">实验室使用参考</text>
<circle cx="445.1" cy="44.2" r="40.9" fill="none" stroke="#00a0e9" stroke-width="2.4"/>
<text x="445.8" y="66" font-size="62" fill="#00a0e9" text-anchor="middle" style="font-family:'Liberation Serif','Noto Serif CJK SC',serif">水</text>
<text x="222.8" y="44.9" font-size="12.3" font-weight="bold" fill="#e60012" letter-spacing="1.8" style="font-family:'Liberation Sans','Noto Sans CJK SC',sans-serif">备选介质一</text>
<text x="551.8" y="46" font-size="12.3" font-weight="bold" fill="#e60012" letter-spacing="1.8" style="font-family:'Liberation Sans','Noto Sans CJK SC',sans-serif">备选介质二</text>
<text font-size="12.3" font-weight="bold" fill="#e60012" text-anchor="middle" style="font-family:'Liberation Sans','Noto Sans CJK SC',sans-serif"><tspan x="428.3" y="185.7">介</tspan><tspan x="428.3" y="203.1">质</tspan><tspan x="428.3" y="220.4">来</tspan><tspan x="428.3" y="237.1">源</tspan><tspan x="428.3" y="253.8">路</tspan><tspan x="428.3" y="271.3">径</tspan></text>
<text x="424.75" y="288" font-size="13" font-weight="bold" fill="#e60012" text-anchor="middle" style="font-family:'Liberation Serif',serif">1</text>
<text font-size="12.3" font-weight="bold" fill="#e60012" text-anchor="middle" style="font-family:'Liberation Sans','Noto Sans CJK SC',sans-serif"><tspan x="540" y="183.9">介</tspan><tspan x="540" y="201.2">质</tspan><tspan x="540" y="218.1">来</tspan><tspan x="540" y="234.8">源</tspan><tspan x="540" y="251.6">路</tspan><tspan x="540" y="268.6">径</tspan></text>
<text x="537.4" y="285.6" font-size="13" font-weight="bold" fill="#e60012" text-anchor="middle" style="font-family:'Liberation Serif',serif">2</text>
<text font-size="12" fill="#000" text-anchor="middle" style="font-family:'Liberation Sans','Noto Sans CJK SC',sans-serif"><tspan x="59.8" y="125.7">接</tspan><tspan x="59.8" y="142.9">实</tspan><tspan x="59.8" y="160.1">验</tspan><tspan x="59.8" y="177.1">室</tspan><tspan x="59.8" y="194.8">自</tspan><tspan x="59.8" y="212.1">来</tspan><tspan x="59.8" y="228.8">水</tspan></text>
<text x="308.6" y="324" font-size="12.4" fill="#000" style="font-family:'Liberation Sans','Noto Sans CJK SC',sans-serif">进水</text>
<text x="672.7" y="328" font-size="12.4" fill="#000" style="font-family:'Liberation Sans','Noto Sans CJK SC',sans-serif">进水</text>
<text x="1071.6" y="326" font-size="12.4" fill="#000" style="font-family:'Liberation Sans','Noto Sans CJK SC',sans-serif">进水</text>
<text x="472.8" y="379" font-size="12.2" fill="#e60012" style="font-family:'Liberation Sans','Noto Sans CJK SC',sans-serif">排污</text>
<text x="862.8" y="379.1" font-size="12.2" fill="#e60012" style="font-family:'Liberation Sans','Noto Sans CJK SC',sans-serif">排污</text>
<text x="1256.7" y="370.1" font-size="12.2" fill="#e60012" style="font-family:'Liberation Sans','Noto Sans CJK SC',sans-serif">排污</text>
<text font-size="12.5" font-weight="300" fill="#333" text-anchor="middle" style="font-family:'Liberation Sans','Noto Sans CJK SC',sans-serif"><tspan x="684.1" y="155.8">液</tspan><tspan x="684.1" y="170.3">杯</tspan><tspan x="684.1" y="184">使</tspan><tspan x="684.1" y="197.3">用</tspan></text>
<text y="615.6" font-size="18" font-weight="bold" fill="#00a0e9" style="font-family:'Liberation Serif','Noto Serif CJK SC',serif"><tspan x="211.5">（</tspan><tspan x="231.5" textLength="53.5">0.1-6</tspan><tspan x="289.4">）</tspan><tspan x="306.4" textLength="32.5" lengthAdjust="spacingAndGlyphs">MPa</tspan><tspan x="340.5" font-size="18.5">使用</tspan></text>
<text y="619.1" font-size="18" font-weight="bold" fill="#00a0e9" style="font-family:'Liberation Serif','Noto Serif CJK SC',serif"><tspan x="622.5">（</tspan><tspan x="644.2" textLength="40.3">1-25</tspan><tspan x="688">）</tspan><tspan x="705.8" textLength="33" lengthAdjust="spacingAndGlyphs">MPa</tspan><tspan x="739.8" font-size="18.5">使用</tspan></text>
<text y="618.3" font-size="17.7" font-weight="bold" fill="#00a0e9" style="font-family:'Liberation Serif','Noto Serif CJK SC',serif"><tspan x="1046.3">（</tspan><tspan x="1068" textLength="40">1-60</tspan><tspan x="1111.8">）</tspan><tspan x="1130" textLength="33" lengthAdjust="spacingAndGlyphs">MPa</tspan><tspan x="1168.2">使用</tspan></text>
</svg>
</body></html>
